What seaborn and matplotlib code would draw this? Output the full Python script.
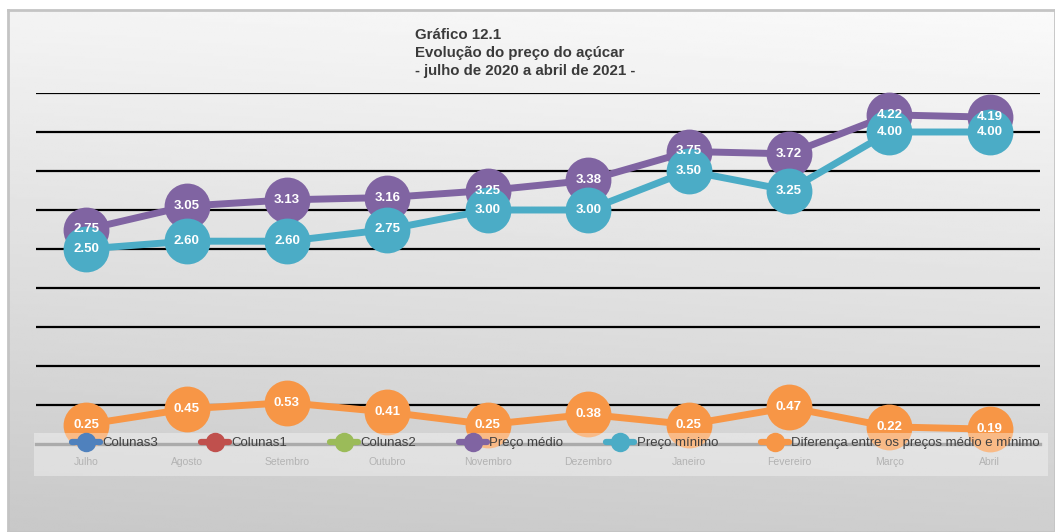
import numpy as np
import pandas as pd
import matplotlib
matplotlib.use('Agg')
import matplotlib.pyplot as plt
from matplotlib.lines import Line2D
from matplotlib.patches import Rectangle
import seaborn as sns

# dados do grafico
meses = ["Julho", "Agosto", "Setembro", "Outubro", "Novembro",
         "Dezembro", "Janeiro", "Fevereiro", "Março", "Abril"]
preco_medio = [2.75, 3.05, 3.13, 3.16, 3.25, 3.38, 3.75, 3.72, 4.22, 4.19]
preco_minimo = [2.50, 2.60, 2.60, 2.75, 3.00, 3.00, 3.50, 3.25, 4.00, 4.00]
diferenca = [0.25, 0.45, 0.53, 0.41, 0.25, 0.38, 0.25, 0.47, 0.22, 0.19]
nomes_legenda = ["Colunas3", "Colunas1", "Colunas2", "Preço médio", "Preço mínimo",
                 "Diferença entre os preços médio e mínimo"]

cores = {"Colunas3": "#4F81BD", "Colunas1": "#C0504D", "Colunas2": "#9BBB59",
         "Preço médio": "#8064A2", "Preço mínimo": "#4BACC6",
         "Diferença entre os preços médio e mínimo": "#F79646"}

sns.set_theme(style="white")
plt.rcParams['font.family'] = ['Liberation Sans', 'DejaVu Sans']

W, H = 1055, 532
fig = plt.figure(figsize=(W / 100, H / 100), dpi=100)
fig.patch.set_facecolor("white")

# fundo em degrade (area do grafico)
bg = fig.add_axes([8 / W, 0, (W - 8) / W, (H - 10) / H], zorder=-10)
yy, xx = np.mgrid[0:1:200j, 0:1:400j]
grad = 0.955 - 0.17 * yy + 0.025 * xx
bg.imshow(grad, cmap="gray", vmin=0, vmax=1, aspect="auto", extent=[0, 1, 1, 0])
bg.set_xticks([]); bg.set_yticks([])
for s in bg.spines.values():
    s.set_color("#c4c4c4"); s.set_linewidth(2)

# eixo principal
y0, y45 = 444, 93
ax = fig.add_axes([36 / W, (H - y0) / H, (1040 - 36) / W, (y0 - y45) / H], zorder=1)
ax.set_facecolor("none")
ax.set_xlim(-0.5, 9.5)
ax.set_ylim(0, 4.5)
for g in np.arange(0.5, 4.51, 0.5):
    ax.axhline(g, color="black", lw=1.6, zorder=1)
for s in ["top", "right", "left"]:
    ax.spines[s].set_visible(False)
ax.spines["bottom"].set_color("#7f7f7f")
ax.spines["bottom"].set_linewidth(2.4)
ax.spines["bottom"].set_zorder(1.5)
ax.set_yticks([])

x = np.arange(len(meses))
series = [("Diferença entre os preços médio e mínimo", diferenca, 3),
          ("Preço médio", preco_medio, 4),
          ("Preço mínimo", preco_minimo, 5)]
for nome, vals, z in series:
    sns.lineplot(x=x, y=vals, ax=ax, color=cores[nome], linewidth=5,
                 marker="o", markersize=33, markeredgewidth=0,
                 zorder=z, clip_on=False, legend=False)

# caixa da legenda (semi-transparente)
ax.add_patch(Rectangle((34 / W, 1 - 476 / H), (1048 - 34) / W, 43 / H,
                       transform=fig.transFigure, facecolor="white", alpha=0.35,
                       edgecolor="none", zorder=6, clip_on=False))

ax.set_xticks(x)
ax.set_xticklabels(meses, fontsize=7.5, color="#8a8a8a")
ax.tick_params(axis="x", length=0, pad=9.5)
ax.set_xlabel(""); ax.set_ylabel("")

# rotulos de dados
for nome, vals, z in series:
    for xi, v in zip(x, vals):
        ax.text(xi, v, f"{v:.2f}", ha="center", va="center", color="white",
                fontsize=9.5, fontweight="bold", zorder=20, clip_on=False)

# legenda
handles = [Line2D([0], [0], color=cores[n], lw=4.5, marker="o", markersize=14,
                  markeredgewidth=0) for n in nomes_legenda]
leg = ax.legend(handles, nomes_legenda, ncol=6, frameon=False, fontsize=9.5,
                loc="center left", bbox_to_anchor=(72 / W, 1 - 443 / H),
                bbox_transform=fig.transFigure, borderpad=0, borderaxespad=0,
                handlelength=2.1, handletextpad=0.2, columnspacing=3.25)
leg.set_zorder(8)
for t in leg.get_texts():
    t.set_color("#404040")

# titulo
titulo = ["Gráfico 12.1", "Evolução do preço do açúcar", "- julho de 2020 a abril de 2021 -"]
for i, linha in enumerate(titulo):
    fig.text(415 / W, 1 - (39 + 18 * i) / H, linha, ha="left", va="baseline",
             fontsize=10.8, fontweight="bold", color="#3a3a3a")

fig.savefig("out.png", dpi=100)
